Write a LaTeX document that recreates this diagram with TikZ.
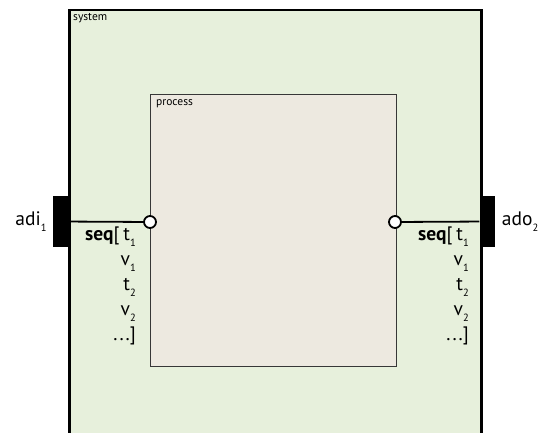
\documentclass[tikz,border=0pt]{standalone}
\usepackage{fontspec}
\setmainfont{PT Sans}
\usetikzlibrary{positioning}
\definecolor{sysgreen}{RGB}{231,240,220}
\definecolor{procbeige}{RGB}{237,233,224}
\definecolor{procline}{RGB}{55,55,55}
\newcommand{\lowsub}[1]{\raisebox{-6pt}{\fontsize{10.5}{10.5}\selectfont #1}}

\begin{document}
\begin{tikzpicture}[
    x=1pt, y=-1pt,
    sysbox/.style={rectangle, draw=black, line width=2.5pt, fill=sysgreen, anchor=north west},
    procbox/.style={rectangle, draw=procline, line width=1.2pt, fill=procbeige, anchor=north west},
    port/.style={rectangle, fill=black, minimum width=15pt, minimum height=51pt, inner sep=0pt},
    pin/.style={circle, draw=black, line width=1.8pt, fill=white, minimum size=12pt, inner sep=0pt},
    boxlabel/.style={anchor=north west, font=\fontsize{11.5}{13}\selectfont, inner sep=0pt},
    portlabel/.style={font=\fontsize{19.5}{21}\selectfont, inner sep=0pt},
    seqtext/.style={anchor=north east, align=right, inner sep=0pt, font=\fontsize{19.5}{25}\selectfont},
    wire/.style={line width=1.8pt}
]
    \clip (0,0) rectangle (548,433);
    \fill[white] (0,0) rectangle (548,433);

    \node (system) [sysbox, minimum width=412pt, minimum height=460pt] at (68,9) {};
    \node (syslabel) [boxlabel] at (73,13) {system};
    \node (process) [procbox, minimum width=246pt, minimum height=272pt] at (150,94) {};
    \node (proclabel) [boxlabel] at (156,99) {process};

    \node (adiport) [port] at (60.5,221.5) {};
    \node (adoport) [port] at (487,221.5) {};
    \node (inpin) [pin] at (150,222) {};
    \node (outpin) [pin] at (395,222) {};

    \node (adi) [portlabel, left=6pt of adiport] {adi\lowsub{1}};
    \node (ado) [portlabel, right=7pt of adoport] {ado\lowsub{2}};

    \draw[wire] (adiport) -- (inpin);
    \draw[wire] (outpin) -- (adoport);

    \node (inseq) [seqtext] at (136,227) {\textbf{seq}[\kern4pt t\lowsub{1}\\ v\lowsub{1}\\ t\lowsub{2}\\ v\lowsub{2}\\ .\kern2pt.\kern2pt.]};
    \node (outseq) [seqtext] at (469,227) {\textbf{seq}[\kern4pt t\lowsub{1}\\ v\lowsub{1}\\ t\lowsub{2}\\ v\lowsub{2}\\ .\kern2pt.\kern2pt.]};
\end{tikzpicture}
\end{document}
